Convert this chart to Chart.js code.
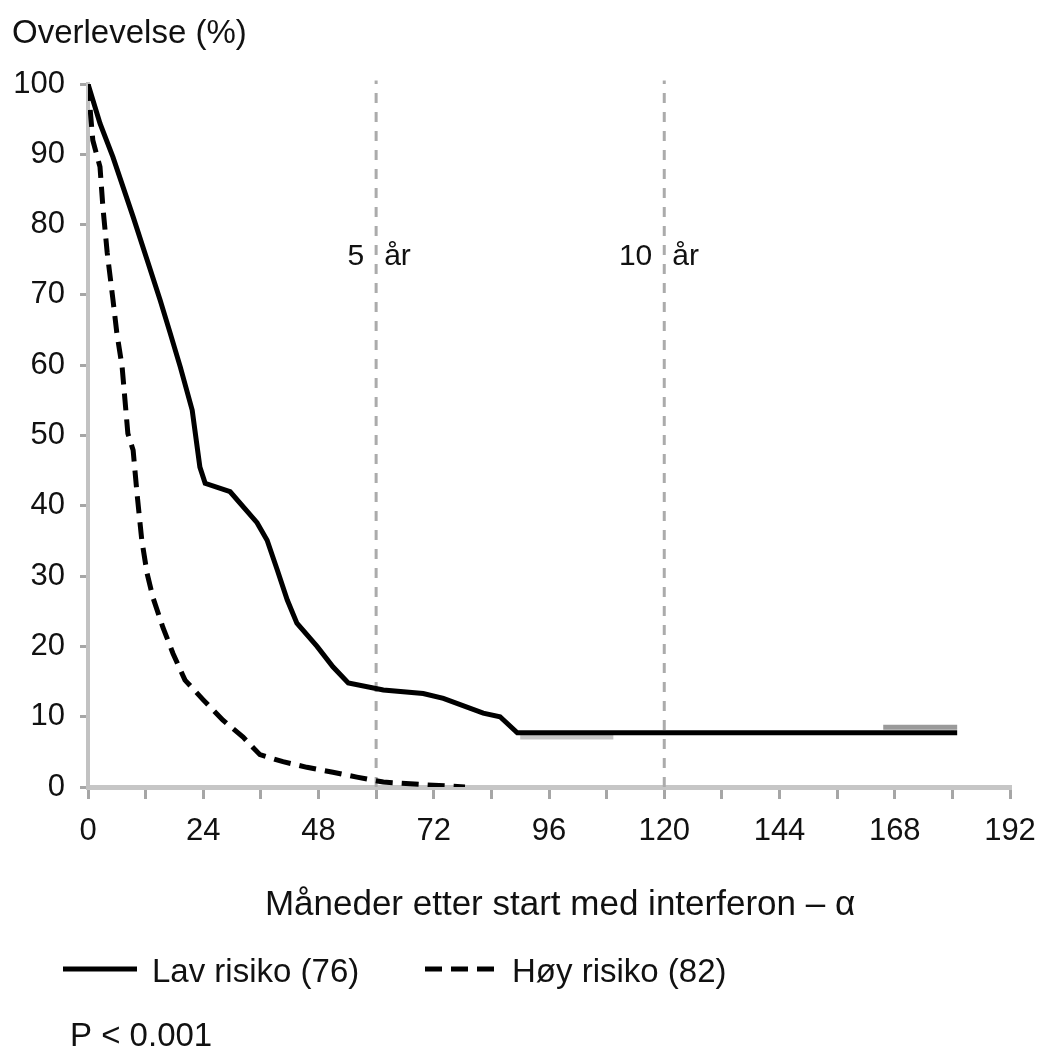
<!DOCTYPE html>
<html lang="no">
<head>
<meta charset="utf-8">
<title>Overlevelse etter start med interferon-α</title>
<script src="https://cdn.jsdelivr.net/npm/chart.js@4.4.1/dist/chart.umd.min.js"></script>
<style>
    html, body { margin: 0; padding: 0; background: #fff; }
    #wrap { width: 1042px; height: 1049px; position: relative; }
</style>
</head>
<body>
<div id="wrap"><canvas id="survivalChart" width="1042" height="1049"></canvas></div>
<script>
const yTitle = 'Overlevelse (%)';
const xTitle = 'Måneder etter start med interferon – α';
const seriesNames = ['Lav risiko (76)', 'Høy risiko (82)'];
const pValueText = 'P < 0.001';

const xTicks = [0, 24, 48, 72, 96, 120, 144, 168, 192];
const yTicks = [0, 10, 20, 30, 40, 50, 60, 70, 80, 90, 100];

// Lav risiko (months, %)
const lowMonths = [0, 2.5, 5.2, 9.4, 12.3, 15.0, 17.1, 19.2, 21.7, 23.3, 24.4, 29.6, 35.2, 37.3, 39.4, 41.5, 43.5, 47.7, 51.0, 54.2, 61.5, 69.8, 74.0, 82.3, 85.8, 89.4, 181];
const lowSurvival = [100, 94.4, 89.6, 81.1, 75.0, 69.3, 64.6, 59.8, 53.6, 45.5, 43.2, 42.0, 37.6, 35.1, 30.9, 26.6, 23.3, 20.0, 17.1, 14.8, 13.8, 13.3, 12.6, 10.5, 10.0, 7.7, 7.7];

// Høy risiko
const highMonths = [0, 1.0, 2.5, 3.1, 4.0, 5.2, 6.0, 7.1, 8.3, 9.4, 10.2, 11.2, 12.3, 13.5, 15.6, 17.7, 20.2, 24.0, 28.1, 32.3, 35.8, 40.6, 45.6, 51.0, 56.0, 61.5, 70.6, 78.5];
const highSurvival = [100, 92.0, 88.2, 82.5, 76.0, 69.3, 64.6, 59.8, 50.3, 47.9, 41.8, 35.1, 30.4, 27.0, 22.7, 19.0, 15.2, 12.4, 9.5, 7.1, 4.6, 3.6, 2.8, 2.1, 1.4, 0.7, 0.3, 0];

// grey stretches along the tail
const greyMonthsA = [90, 109.4];
const greySurvivalA = [7.1, 7.1];
const greyMonthsB = [165.6, 181];
const greySurvivalB = [8.5, 8.5];

// 5 and 10 year marks
const yearMonths = [60, 120];
const yearLabels = ['5', '10'];

const FONT = "'Liberation Sans', Arial, sans-serif";
const INK = '#111';

function toPoints(xs, ys) {
    return xs.map((x, i) => ({ x: x, y: ys[i] }));
}

const textPlugin = {
    id: 'textPlugin',
    afterDraw(chart) {
        const ctx = chart.ctx;
        const xs = chart.scales.x;
        const ys = chart.scales.y;
        ctx.save();
        ctx.fillStyle = INK;
        ctx.textBaseline = 'alphabetic';

        ctx.font = `33px ${FONT}`;
        ctx.textAlign = 'left';
        ctx.fillText(yTitle, 12, 43);

        // year labels either side of the dashed lines
        ctx.font = `30px ${FONT}`;
        const yearY = ys.getPixelForValue(74.2);
        yearMonths.forEach((m, i) => {
            const px = xs.getPixelForValue(m);
            ctx.textAlign = 'right';
            ctx.fillText(yearLabels[i], px - 12, yearY);
            ctx.textAlign = 'left';
            ctx.fillText('år', px + 8, yearY);
        });

        ctx.font = `35px ${FONT}`;
        ctx.textAlign = 'center';
        ctx.fillText(xTitle, 560, 915);

        // legend
        const items = [
            { ds: chart.data.datasets[0], x: 63, w: 74 },
            { ds: chart.data.datasets[1], x: 425, w: 72 },
        ];
        ctx.font = `33px ${FONT}`;
        ctx.textAlign = 'left';
        items.forEach((item) => {
            ctx.save();
            ctx.strokeStyle = item.ds.borderColor;
            ctx.lineWidth = item.ds.borderWidth;
            ctx.setLineDash(item.ds.borderDash || []);
            ctx.beginPath();
            ctx.moveTo(item.x, 969);
            ctx.lineTo(item.x + item.w, 969);
            ctx.stroke();
            ctx.restore();
            ctx.fillText(item.ds.label, item.x + item.w + 15, 982);
        });

        ctx.fillText(pValueText, 70, 1046);
        ctx.restore();
    },
};

function initChart() {
    Chart.defaults.font.family = FONT;
    Chart.defaults.color = INK;

    const ctx = document.getElementById('survivalChart').getContext('2d');
    new Chart(ctx, {
        type: 'line',
        data: {
            datasets: [
                {
                    label: seriesNames[0],
                    data: toPoints(lowMonths, lowSurvival),
                    borderColor: '#000',
                    borderWidth: 5,
                    tension: 0,
                },
                {
                    label: seriesNames[1],
                    data: toPoints(highMonths, highSurvival),
                    borderColor: '#000',
                    borderWidth: 5,
                    borderDash: [17, 9],
                    tension: 0,
                },
                {
                    label: 'grey A',
                    data: toPoints(greyMonthsA, greySurvivalA),
                    borderColor: '#c4c4c4',
                    borderWidth: 5,
                },
                {
                    label: 'grey B',
                    data: toPoints(greyMonthsB, greySurvivalB),
                    borderColor: '#9a9a9a',
                    borderWidth: 5,
                },
                ...yearMonths.map((m) => ({
                    label: `${m} mnd`,
                    data: [{ x: m, y: 0 }, { x: m, y: 100.5 }],
                    borderColor: '#ababab',
                    borderWidth: 3,
                    borderDash: [10, 9],
                    clip: false,
                })),
            ],
        },
        options: {
            responsive: false,
            animation: false,
            events: [],
            elements: {
                point: { radius: 0 },
                line: { fill: false, borderCapStyle: 'butt' },
            },
            layout: {
                padding: { top: 84, right: 32, bottom: 0, left: 0 },
            },
            scales: {
                x: {
                    type: 'linear',
                    min: 0,
                    max: 192,
                    afterFit: (scale) => {
                        scale.height = 262;
                        scale.paddingLeft = 0;
                        scale.paddingRight = 0;
                    },
                    afterBuildTicks: (scale) => {
                        const ticks = [];
                        for (let v = 0; v <= 192; v += 12) {
                            ticks.push({ value: v });
                        }
                        scale.ticks = ticks;
                    },
                    ticks: {
                        autoSkip: false,
                        maxRotation: 0,
                        padding: 14,
                        font: { size: 31 },
                        color: INK,
                        callback: (value) => (xTicks.includes(value) ? String(value) : ''),
                    },
                    grid: {
                        drawOnChartArea: false,
                        tickLength: 12,
                        color: '#a6a6a6',
                        lineWidth: 3,
                    },
                    border: { color: '#c6c6c6', width: 5 },
                },
                y: {
                    min: 0,
                    max: 100,
                    afterFit: (scale) => {
                        scale.width = 88;
                        scale.paddingTop = 0;
                        scale.paddingBottom = 0;
                    },
                    afterBuildTicks: (scale) => {
                        scale.ticks = yTicks.map((v) => ({ value: v }));
                    },
                    ticks: {
                        padding: 15,
                        font: { size: 31 },
                        color: INK,
                    },
                    grid: {
                        drawOnChartArea: false,
                        tickLength: 8,
                        color: '#a6a6a6',
                        lineWidth: 3,
                    },
                    border: { color: '#c2c2c2', width: 4 },
                },
            },
            plugins: {
                legend: { display: false },
                tooltip: { enabled: false },
            },
        },
        plugins: [textPlugin],
    });
}

document.addEventListener('DOMContentLoaded', initChart);
</script>
</body>
</html>
